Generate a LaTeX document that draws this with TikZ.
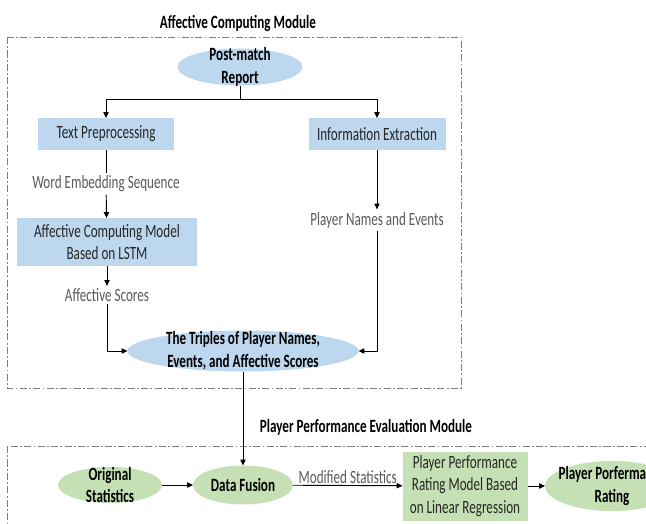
\documentclass[tikz,border=0pt]{standalone}
\usepackage{fontspec}
\setmainfont{Carlito}[FakeStretch=0.7]
\usetikzlibrary{shapes.geometric}
\usetikzlibrary{arrows.meta}
\definecolor{reportblue}{HTML}{BDD7EE}
\definecolor{ratinggreen}{HTML}{C5E0B4}
\definecolor{labelgray}{HTML}{595959}
\definecolor{framegray}{HTML}{7F7F7F}
\definecolor{boxtext}{HTML}{262626}
\newcommand{\diagramfont}{\fontsize{16}{19.5}\selectfont}
\tikzstyle{ellipsenode}=[ellipse, inner sep=0, outer sep=0]
\tikzstyle{blueellipse}=[ellipsenode, fill=reportblue]
\tikzstyle{greenellipse}=[ellipsenode, fill=ratinggreen]
\tikzstyle{boxnode}=[rectangle, inner sep=0, outer sep=0, text=boxtext]
\tikzstyle{bluebox}=[boxnode, fill=reportblue]
\tikzstyle{greenbox}=[boxnode, fill=ratinggreen]
\tikzstyle{ellipsetext}=[font=\diagramfont\bfseries, text=black]
\tikzstyle{flowlabel}=[text=labelgray, inner sep=2pt]
\tikzstyle{moduleframe}=[draw=framegray, line width=0.6pt, dash pattern=on 6pt off 2pt on 1.5pt off 2pt]
\tikzstyle{moduletitle}=[font=\diagramfont\bfseries]
\tikzstyle{flow}=[draw, line width=0.8pt, -{Triangle[length=5pt, width=4.5pt]}]
\tikzstyle{flowchart}=[x=0.03cm, y=-0.03cm,
                       % One unit is one pixel of the page, y runs downwards.
                       every node/.style={align=center},
                       font=\diagramfont]

\begin{document}
\begin{tikzpicture}[flowchart]
    \useasboundingbox (0, 0) rectangle (646, 523);
    \clip (0, 0) rectangle (646, 523);
    % Affective computing module
    \draw[moduleframe] (7, 37) rectangle (461, 388);
    \node[moduletitle]                                             (acmtitle)   at (238, 23)  {Affective Computing Module};
    \node[blueellipse, minimum width=3.75cm, minimum height=1.11cm] (report)     at (240, 67)  {};
    \node[ellipsetext]                                             (reporttext) at (report)    {Post-match\\Report};
    \node[bluebox, minimum width=4.08cm, minimum height=0.96cm]    (textprep)   at (106, 134) {Text Preprocessing};
    \node[bluebox, minimum width=4.11cm, minimum height=0.96cm]    (infoext)    at (377, 134) {Information Extraction};
    \node[flowlabel]                                               (wordemb)    at (106, 184) {Word Embedding Sequence};
    \node[bluebox, minimum width=5.4cm, minimum height=1.44cm]     (acmodel)    at (107, 242) {Affective Computing Model\\Based on LSTM};
    \node[flowlabel]                                               (affscores)  at (107, 295) {Affective Scores};
    \node[flowlabel]                                               (playernames) at (377, 220) {Player Names and Events};
    \node[blueellipse, minimum width=6.93cm, minimum height=1.23cm] (triples)    at (243, 351) {};
    \node[ellipsetext]                                             (triplestext) at (triples) {The Triples of Player Names,\\Events, and Affective Scores};
    \coordinate (split) at (240, 99);
    \draw[flow] (report.south) -- (split) -| (textprep.north);
    \draw[flow] (split) -| (infoext.north);
    \draw[line width=0.8pt] (textprep) -- (wordemb);
    \draw[flow] (wordemb) -- (acmodel);
    \draw[flow] (acmodel) -- (affscores);
    \draw[flow] (affscores.south) |- (triples.west);
    \draw[flow] (infoext) -- (playernames);
    \draw[flow] (playernames.south) |- (triples.east);
    % Player performance evaluation module
    \draw[moduleframe] (7, 446) rectangle (700, 560);
    \node[moduletitle]                                               (ppetitle)   at (366, 427) {Player Performance Evaluation Module};
    \node[greenellipse, minimum width=3.12cm, minimum height=1.08cm] (origstats)  at (110, 485) {};
    \node[ellipsetext]                                               (origtext)   at (origstats) {Original\\Statistics};
    \node[greenellipse, minimum width=3.0cm, minimum height=1.17cm]  (datafusion) at (243, 485) {};
    \node[ellipsetext]                                               (fusiontext) at (datafusion) {Data Fusion};
    \node[greenbox, minimum width=3.75cm, minimum height=2.07cm]     (ppmodel)    at (465, 486) {Player Performance\\Rating Model Based\\on Linear Regression};
    \node[greenellipse, minimum width=4.02cm, minimum height=1.5cm]   (pprating)   at (612, 486) {};
    \node[ellipsetext]                                               (ratingtext) at (pprating) {Player Porfermance\\Rating};
    \draw[flow] (triples.south) -- (datafusion.north);
    \draw[flow] (origstats) -- (datafusion);
    \draw[flow] (datafusion) -- node[flowlabel, above, inner sep=1pt] (modstats) {Modified Statistics} (ppmodel);
    \draw[flow] (ppmodel) -- (pprating);
\end{tikzpicture}
\end{document}
